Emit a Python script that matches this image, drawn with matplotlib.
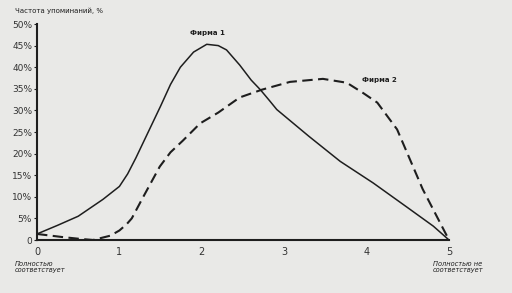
import matplotlib
matplotlib.use("Agg")
from matplotlib import pyplot as plt

# values
firm1_x = [0, 0.25, 0.5, 0.8, 1.0, 1.1, 1.2, 1.35, 1.5, 1.62, 1.74, 1.9, 2.06, 2.2, 2.3, 2.46, 2.6, 2.71, 2.82, 2.91, 3.3, 3.68, 4.08, 4.49, 4.81, 5.0]
firm1_y = [1.4, 3.4, 5.5, 9.4, 12.4, 15.3, 19, 25, 31, 36, 40, 43.5, 45.3, 45, 44, 40.5, 37, 34.8, 32.3, 30.2, 24, 18.2, 13.2, 7.6, 3.2, 0]

firm2_x = [0, 0.3, 0.5, 0.68, 0.89, 1.0, 1.09, 1.15, 1.22, 1.29, 1.39, 1.49, 1.62, 1.77, 1.98, 2.2, 2.46, 2.73, 3.07, 3.47, 3.76, 3.96, 4.13, 4.37, 4.68, 5.0]
firm2_y = [1.4, 0.7, 0.3, 0, 1, 2.2, 3.7, 5, 7.5, 10, 13.5, 17, 20.3, 23, 27, 29.5, 33, 34.8, 36.6, 37.3, 36.4, 34, 31.8, 25.6, 11.8, 0]

y_ticks = [0, 5, 10, 15, 20, 25, 30, 35, 40, 45, 50]
y_labels = ["0"] + [f"{v}%" for v in y_ticks[1:]]
x_ticks = [0, 1, 2, 3, 4, 5]

bg = "#e9e9e7"
ink = "#1e1e1e"

fig = plt.figure(figsize=(5.12, 2.93), dpi=100, facecolor=bg)
ax = fig.add_axes([37 / 512, (293 - 240) / 293, 412 / 512, 216 / 293], facecolor=bg)

ax.plot(firm1_x, firm1_y, color=ink, lw=1.1, solid_joinstyle="round")
ax.plot(firm2_x, firm2_y, color=ink, lw=1.5, dashes=(5, 2.6))

ax.set_xlim(0, 5)
ax.set_ylim(0, 50)
for s in ["top", "right"]:
    ax.spines[s].set_visible(False)
for s in ["left", "bottom"]:
    ax.spines[s].set_linewidth(1.5)
    ax.spines[s].set_color(ink)

ax.set_yticks(y_ticks)
ax.set_yticklabels(y_labels, fontsize=6.5, color="#333333")
ax.tick_params(axis="y", length=2, width=0.8, pad=1.5, color=ink)
ax.set_xticks(x_ticks)
ax.set_xticklabels([str(v) for v in x_ticks], fontsize=7, color="#333333")
ax.tick_params(axis="x", length=0, pad=5)

ax.text(2.07, 47.9, "Фирма 1", fontsize=5, fontweight="bold", color=ink, ha="center", va="center")
ax.text(4.16, 37.1, "Фирма 2", fontsize=5, fontweight="bold", color=ink, ha="center", va="center")

fig.text(15 / 512, 1 - 11 / 293, "Частота упоминаний, %", fontsize=5, color=ink, va="center")
fig.text(15 / 512, 1 - 267 / 293, "Полностью\nсоответствует", fontsize=4.8, style="italic",
         color=ink, va="center", linespacing=1.05)
fig.text(433 / 512, 1 - 267 / 293, "Полностью не\nсоответствует", fontsize=4.8, style="italic",
         color=ink, va="center", linespacing=1.05)

fig.savefig("out.png", dpi=100, facecolor=bg)
